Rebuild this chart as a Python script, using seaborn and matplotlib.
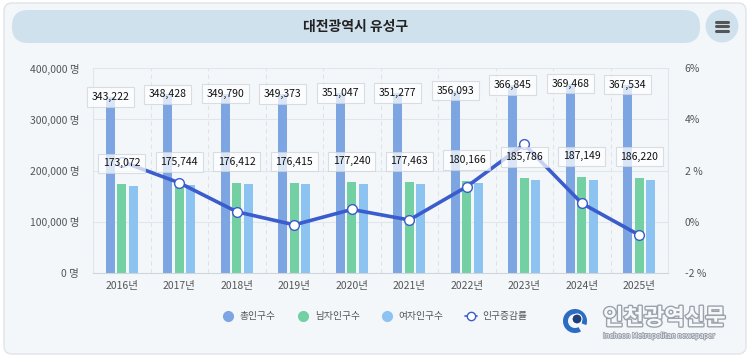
import numpy as np
import pandas as pd
import seaborn as sns
import matplotlib.pyplot as plt
from matplotlib.patches import FancyBboxPatch, Circle, Wedge
from matplotlib.lines import Line2D
import matplotlib.patheffects as pe

# data
years = ['2016년', '2017년', '2018년', '2019년', '2020년', '2021년', '2022년', '2023년', '2024년', '2025년']
total = [343222, 348428, 349790, 349373, 351047, 351277, 356093, 366845, 369468, 367534]
male = [173072, 175744, 176412, 176415, 177240, 177463, 180166, 185786, 187149, 186220]
female = [170150, 172684, 173378, 172958, 173807, 173814, 175927, 181059, 182319, 181314]
rate = [2.35, 1.52, 0.39, -0.12, 0.48, 0.07, 1.37, 3.02, 0.72, -0.52]

series = ['총인구수', '남자인구수', '여자인구수']
colors = ['#7ca5e2', '#72d0a3', '#8cc3f0']
line_color = '#3b5ccc'

sns.set_style('white')
plt.rcParams['font.family'] = ['Noto Sans CJK KR', 'DejaVu Sans']

df = pd.DataFrame({
    'year': years * 3,
    'kind': [s for s in series for _ in years],
    'pop': total + male + female,
})

fig = plt.figure(figsize=(7.5, 3.57), dpi=100)
fig.patch.set_facecolor('white')

# background card, header pill, menu button (pixel coordinates)
bg = fig.add_axes([0, 0, 1, 1], zorder=-10)
bg.set_xlim(0, 750)
bg.set_ylim(357, 0)
bg.axis('off')
bg.add_patch(FancyBboxPatch((4, 3), 742, 351, boxstyle='round,pad=0,rounding_size=8',
                            facecolor='#f4f7fa', edgecolor='#dfe4ea', linewidth=1))
bg.add_patch(FancyBboxPatch((12, 10), 688, 33, boxstyle='round,pad=0,rounding_size=16',
                            facecolor='#d0e1ee', edgecolor='none'))
bg.text(356, 26.5, '대전광역시 유성구', ha='center', va='center', fontsize=10,
        fontweight='bold', color='#222222')
bg.add_patch(Circle((722, 26), 16.5, facecolor='#d0e1ee', edgecolor='none'))
for yy in (21.5, 26, 30.5):
    bg.plot([716, 728], [yy, yy], color='#555555', lw=2.2, solid_capstyle='round')

# watermark
bg.add_patch(Wedge((575, 321), 12, 60, 380, width=5, facecolor='#2b6cc4', edgecolor='none'))
bg.add_patch(Circle((577, 319), 5, facecolor='#1f3f7a', edgecolor='white', lw=0.8))
wm = bg.text(603, 318, '인천광역신문', ha='left', va='center', fontsize=16, fontweight='bold',
             color='#f7f8fa')
wm.set_path_effects([pe.withStroke(linewidth=2, foreground='#9aa3ad')])
sub = bg.text(603, 336, 'Incheon Metropolitan newspaper', ha='left', va='center', fontsize=5.2,
              color='#f7f8fa')
sub.set_path_effects([pe.withStroke(linewidth=1.2, foreground='#9aa3ad')])

# main chart
ax = fig.add_axes([0.124, 0.2353, 0.7667, 0.5742])
ax.set_facecolor('none')
sns.barplot(data=df, x='year', y='pop', hue='kind', hue_order=series, palette=colors,
            width=0.6, gap=0.2, saturation=1, linewidth=0, legend=False, ax=ax)
ax.set_ylim(0, 400000)
ax.set_yticks(np.arange(0, 400001, 100000))
ax.set_yticklabels([f'{v:,} 명' for v in range(0, 400001, 100000)])
ax.set_xlabel('')
ax.set_ylabel('')
ax.set_xticks(range(len(years)))
ax.set_xticklabels(years)
ax.set_xticks(np.arange(-0.5, len(years), 1), minor=True)
ax.tick_params(axis='x', which='major', length=0, pad=6, labelsize=7.5, labelcolor='#555555')
ax.tick_params(axis='x', which='minor', length=4, color='#cfd5dc', width=0.8)
ax.tick_params(axis='y', length=0, pad=10, labelsize=7.5, labelcolor='#555555')
ax.grid(axis='y', color='#e1e6ec', lw=0.8)
ax.grid(axis='x', which='minor', color='#dfe4ea', lw=0.8, ls=(0, (4, 3)))
ax.set_axisbelow(True)
ax.spines['top'].set_visible(False)
for side in ['left', 'right']:
    ax.spines[side].set_color('#e1e6ec')
    ax.spines[side].set_linewidth(0.8)
ax.spines['bottom'].set_color('#cfd5dc')
ax.spines['bottom'].set_linewidth(0.8)

# growth rate line on right axis
ax2 = ax.twinx()
sns.lineplot(x=np.arange(len(years)), y=rate, ax=ax2, color=line_color, linewidth=2.6,
             marker='o', markersize=7, markerfacecolor='white', markeredgecolor=line_color,
             markeredgewidth=1.0, zorder=3)
ax2.set_ylim(-2, 6)
ax2.set_yticks([-2, 0, 2, 4, 6])
ax2.set_yticklabels(['-2 %', '0%', '2 %', '4%', '6%'])
ax2.tick_params(axis='y', length=0, pad=12, labelsize=7.5, labelcolor='#555555')
for side in ax2.spines:
    ax2.spines[side].set_visible(False)
ax2.set_ylabel('')
ax.set_xlim(-0.5, len(years) - 0.5)

# value labels
box = dict(boxstyle='square,pad=0.45', facecolor='white', alpha=0.72, edgecolor='#cdd3da', lw=0.8)
for i in range(len(years)):
    ax2.annotate(f'{total[i]:,}', xy=(i - 0.2, total[i]), xycoords=ax.transData,
                 ha='center', va='center', fontsize=7.5, color='#111111', bbox=box, zorder=5)
    ax2.annotate(f'{male[i]:,}', xy=(i, male[i]), xycoords=ax.transData,
                 xytext=(0, 15), textcoords='offset points',
                 ha='center', va='center', fontsize=7.5, color='#111111', bbox=box, zorder=5)

# legend
handles = [Line2D([], [], marker='o', ls='', markersize=7, color=c) for c in colors]
handles.append(Line2D([], [], marker='o', color=line_color, lw=1.2, markersize=6,
                      markerfacecolor='white', markeredgecolor=line_color))
fig.legend(handles, series + ['인구증감률'], loc='center', bbox_to_anchor=(0.5, 0.114), ncol=4,
           frameon=False, fontsize=7, handlelength=1.2, handletextpad=0.6, columnspacing=2.2,
           labelcolor='#555555')

fig.savefig('out.png', dpi=100)
